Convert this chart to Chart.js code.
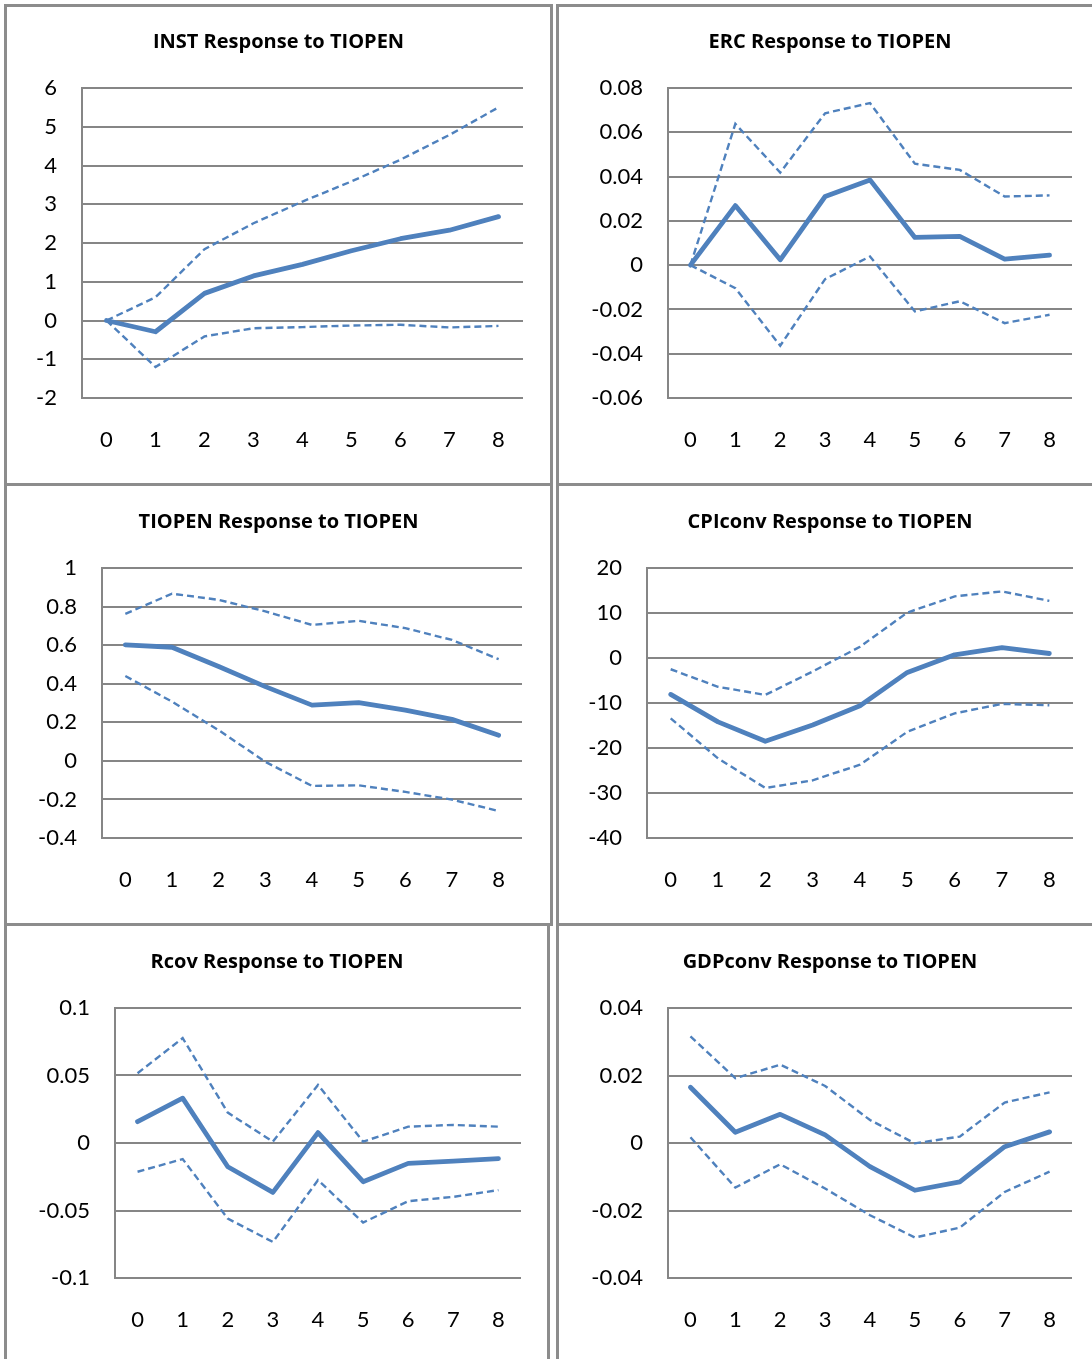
<!DOCTYPE html>
<html>
<head>
<meta charset="utf-8">
<script src="https://cdn.jsdelivr.net/npm/chart.js@4.4.0/dist/chart.umd.min.js"></script>
<style>
body { margin:0; width:1092px; height:1359px; overflow:hidden; background:#fff; position:relative; }
.panel { position:absolute; border:3px solid #8c8c8c; box-sizing:border-box; }
canvas { position:absolute; }
</style>
</head>
<body>
<div class="panel" style="left:4px;top:4px;width:549px;height:482px"></div>
<div class="panel" style="left:556px;top:4px;width:600px;height:482px"></div>
<div class="panel" style="left:4px;top:483px;width:549px;height:443px"></div>
<div class="panel" style="left:556px;top:483px;width:600px;height:443px"></div>
<div class="panel" style="left:4px;top:923px;width:546px;height:500px"></div>
<div class="panel" style="left:556px;top:923px;width:600px;height:500px"></div>

<canvas id="c_inst"></canvas>
<canvas id="c_erc"></canvas>
<canvas id="c_tiopen"></canvas>
<canvas id="c_cpi"></canvas>
<canvas id="c_rcov"></canvas>
<canvas id="c_gdp"></canvas>

<script>
// horizon steps (x axis)
steps = ["0","1","2","3","4","5","6","7","8"]

// impulse responses: mid = response, hi/lo = bands
inst_mid = [0, -0.29, 0.70, 1.15, 1.45, 1.80, 2.11, 2.33, 2.68]
inst_hi  = [0, 0.60, 1.84, 2.51, 3.07, 3.59, 4.15, 4.79, 5.50]
inst_lo  = [0, -1.20, -0.41, -0.20, -0.17, -0.13, -0.11, -0.18, -0.14]
inst_ticks = [-2, -1, 0, 1, 2, 3, 4, 5, 6]

erc_mid = [0, 0.0269, 0.0024, 0.0310, 0.0385, 0.0125, 0.0130, 0.0027, 0.0045]
erc_hi  = [0, 0.0638, 0.0418, 0.0686, 0.0732, 0.0458, 0.0430, 0.0310, 0.0315]
erc_lo  = [0, -0.0104, -0.0364, -0.0063, 0.0039, -0.0209, -0.0163, -0.0262, -0.0224]
erc_ticks = [-0.06, -0.04, -0.02, 0, 0.02, 0.04, 0.06, 0.08]

tiopen_mid = [0.601, 0.589, 0.489, 0.385, 0.289, 0.302, 0.263, 0.215, 0.133]
tiopen_hi  = [0.762, 0.867, 0.835, 0.775, 0.705, 0.726, 0.688, 0.627, 0.527]
tiopen_lo  = [0.440, 0.307, 0.159, -0.005, -0.130, -0.127, -0.161, -0.201, -0.260]
tiopen_ticks = [-0.4, -0.2, 0, 0.2, 0.4, 0.6, 0.8, 1]

cpi_mid = [-8.1, -14.2, -18.5, -14.9, -10.6, -3.2, 0.7, 2.3, 1.0]
cpi_hi  = [-2.5, -6.4, -8.2, -3.0, 2.5, 10.1, 13.7, 14.8, 12.7]
cpi_lo  = [-13.4, -22.3, -28.9, -27.2, -23.7, -16.4, -12.3, -10.2, -10.5]
cpi_ticks = [-40, -30, -20, -10, 0, 10, 20]

rcov_mid = [0.0158, 0.0332, -0.0176, -0.0366, 0.0077, -0.0287, -0.0151, -0.0134, -0.0116]
rcov_hi  = [0.0517, 0.0777, 0.0225, 0.0010, 0.0430, 0.0010, 0.0121, 0.0134, 0.0121]
rcov_lo  = [-0.0213, -0.0119, -0.0560, -0.0733, -0.0275, -0.0589, -0.0431, -0.0399, -0.0349]
rcov_ticks = [-0.1, -0.05, 0, 0.05, 0.1]

gdp_mid = [0.0165, 0.0032, 0.0085, 0.0024, -0.0070, -0.0140, -0.0115, -0.0011, 0.0033]
gdp_hi  = [0.0316, 0.0192, 0.0232, 0.0169, 0.0068, -0.0001, 0.0019, 0.0120, 0.0150]
gdp_lo  = [0.0017, -0.0132, -0.0063, -0.0135, -0.0214, -0.0280, -0.0251, -0.0145, -0.0085]
gdp_ticks = [-0.04, -0.02, 0, 0.02, 0.04]

Chart.defaults.font.family = "Lato"
Chart.defaults.color = "#000"

BLUE = "#4F81BD"
GRID = "#868686"
TITLE_SIZE = 20
TICK_SIZE = 22

// g: canvas box (x0,y0,w,h), plot box (left,right,top,bottom), title centre ty
function make_chart(id, title, mid, hi, lo, yticks, g){
  canvas = document.getElementById(id)
  canvas.width = g.w
  canvas.height = g.h
  canvas.style.left = g.x0 + "px"
  canvas.style.top = g.y0 + "px"

  th = TITLE_SIZE * 1.2
  pad_top = g.ty - g.y0 - th / 2
  pad_bot = g.top - (g.ty + th / 2)
  // same padding on both sides so the title sits in the middle of the panel
  side = g.x0 + g.w - g.right

  dashed = {borderColor: BLUE, borderWidth: 2.4, borderDash: [7, 4], pointRadius: 0, fill: false, tension: 0}

  return new Chart(canvas, {
    type: 'line',
    data: {
      labels: steps,
      datasets: [
        {data: mid, borderColor: BLUE, borderWidth: 4.8, pointRadius: 0, fill: false, tension: 0,
         borderCapStyle: 'round', borderJoinStyle: 'round'},
        Object.assign({data: hi}, dashed),
        Object.assign({data: lo}, dashed)
      ]
    },
    options: {
      responsive: false,
      animation: false,
      devicePixelRatio: 1,
      layout: {padding: {left: side, right: side, top: 0, bottom: 0}},
      plugins: {
        legend: {display: false},
        tooltip: {enabled: false},
        title: {
          display: true,
          text: title,
          color: "#000",
          font: {family: "Open Sans", size: TITLE_SIZE, weight: 'bold', lineHeight: 1.2},
          padding: {top: pad_top, bottom: pad_bot}
        }
      },
      scales: {
        x: {
          type: 'category',
          offset: true,
          grid: {display: false, drawTicks: false},
          border: {display: false},
          ticks: {font: {size: TICK_SIZE}, padding: 29, maxRotation: 0, autoSkip: false},
          afterFit: s => { s.height = g.y0 + g.h - g.bottom }
        },
        y: {
          min: yticks[0],
          max: yticks[yticks.length - 1],
          grid: {color: GRID, lineWidth: 2, drawTicks: false},
          border: {display: true, color: GRID, width: 2},
          ticks: {font: {size: TICK_SIZE}, padding: 25, callback: v => String(v)},
          afterBuildTicks: s => { s.ticks = yticks.map(v => ({value: v})) },
          afterFit: s => { s.width = g.left - g.x0 - side }
        }
      }
    }
  })
}

make_chart("c_inst", "INST Response to TIOPEN", inst_mid, inst_hi, inst_lo, inst_ticks,
  {x0: 7, y0: 7, w: 543, h: 476, left: 82, right: 523, top: 88, bottom: 398, ty: 42})
make_chart("c_erc", "ERC Response to TIOPEN", erc_mid, erc_hi, erc_lo, erc_ticks,
  {x0: 560, y0: 7, w: 540, h: 476, left: 668, right: 1072, top: 88, bottom: 398, ty: 42})
make_chart("c_tiopen", "TIOPEN Response to TIOPEN", tiopen_mid, tiopen_hi, tiopen_lo, tiopen_ticks,
  {x0: 7, y0: 486, w: 543, h: 437, left: 102, right: 522, top: 568, bottom: 838, ty: 522})
make_chart("c_cpi", "CPIconv Response to TIOPEN", cpi_mid, cpi_hi, cpi_lo, cpi_ticks,
  {x0: 560, y0: 486, w: 540, h: 437, left: 647, right: 1073, top: 568, bottom: 838, ty: 522})
make_chart("c_rcov", "Rcov Response to TIOPEN", rcov_mid, rcov_hi, rcov_lo, rcov_ticks,
  {x0: 7, y0: 926, w: 540, h: 433, left: 115, right: 521, top: 1008, bottom: 1278, ty: 962})
make_chart("c_gdp", "GDPconv Response to TIOPEN", gdp_mid, gdp_hi, gdp_lo, gdp_ticks,
  {x0: 560, y0: 926, w: 540, h: 433, left: 668, right: 1072, top: 1008, bottom: 1278, ty: 962})
</script>
</body>
</html>
